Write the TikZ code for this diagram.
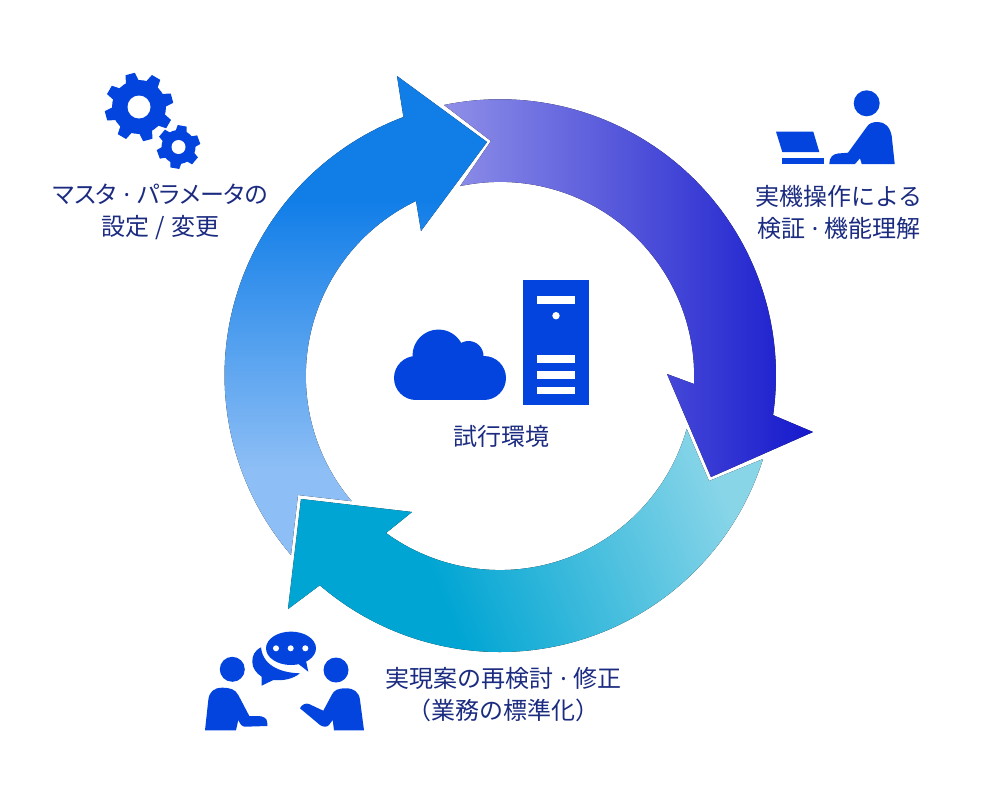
\documentclass[tikz,border=0pt]{standalone}
\usepackage{fontspec}
\setmainfont{Noto Sans CJK JP}
\newfontfamily\dotfont{Noto Sans}
\newfontfamily\paltfont[RawFeature=+palt]{Noto Sans CJK JP}
\newcommand{\sepdot}{\hspace{0.28em}{\dotfont ·}\hspace{0.28em}}
\definecolor{iconblue}{HTML}{0344DE}
\definecolor{labelnavy}{HTML}{1B2B80}
\definecolor{ringblue}{HTML}{117EE8}
\definecolor{ringpale}{HTML}{8DBEF5}
\definecolor{ringteal}{HTML}{00A5D3}
\definecolor{ringaqua}{HTML}{88D5E8}
\definecolor{ringlilac}{HTML}{8F8FE8}
\definecolor{ringindigo}{HTML}{1519CC}
\pgfdeclareverticalshading{blueshade}{100bp}{color(0bp)=(ringpale); color(34bp)=(ringpale); color(62bp)=(ringblue); color(100bp)=(ringblue)}
\pgfdeclarehorizontalshading{tealshade}{100bp}{color(0bp)=(ringteal); color(38bp)=(ringteal); color(75bp)=(ringaqua); color(100bp)=(ringaqua)}
\tikzset{
  icon/.style={fill=iconblue, draw=none},
  hole/.style={fill=white, draw=none},
  label/.style={text=labelnavy, align=center, inner sep=0pt, font=\fontsize{24}{32}\selectfont},
}
\begin{document}
\begin{tikzpicture}[x=1pt, y=-1pt]
    \useasboundingbox (0,0) rectangle (1000,800);

    % ring
    \fill[left color=ringlilac, right color=ringindigo]
      (444,105) arc[start angle=-101.7, end angle=8.3, radius=276] -- (813,432) -- (711,477) -- (667,374) -- (694,384)
      arc[start angle=2.4, end angle=-101.9, radius=194] -- (491,141) -- cycle;
    \fill[shading=tealshade, shading angle=22]
      (763,459) arc[start angle=17.5, end angle=130.7, radius=276] -- (288,609) -- (301,499) -- (412,512) -- (386,533)
      arc[start angle=126, end angle=15.8, radius=194] -- (709,481) -- cycle;
    \fill[shading=blueshade]
      (291,555) arc[start angle=139.4, end angle=249.4, radius=276] -- (397,76) -- (487,142) -- (421,231) -- (416,201)
      arc[start angle=244.4, end angle=139.8, radius=194] -- (298,495) -- cycle;

    % gears
    \begin{scope}[shift={(139,107)}]
      \fill[icon] (0,0) circle[radius=27];
      \foreach \a in {-105,-60,...,210} {
        \fill[icon] (\a-15:26) -- (\a-8:34.5) -- (\a+8:34.5) -- (\a+15:26) -- cycle;
      }
      \fill[hole] (0,0) circle[radius=11.5];
    \end{scope}
    \begin{scope}[shift={(178.5,147)}]
      \fill[icon] (0,0) circle[radius=17];
      \foreach \a in {-80,-20,...,220} {
        \fill[icon] (\a-21:16) -- (\a-12:22) -- (\a+12:22) -- (\a+21:16) -- cycle;
      }
      \fill[hole] (0,0) circle[radius=7];
    \end{scope}

    % laptop and user
    \fill[icon] (866.7,103.3) circle[radius=13];
    \fill[icon] (776,131.7) -- (813.3,131.7) -- (819.3,152) -- (782.3,152) -- cycle;
    \fill[icon] (782.3,158.3) rectangle (824,164);
    \fill[icon] (894.7,164) -- (891.7,136) .. controls (890,127) and (885,122) .. (878,122)
      .. controls (873,122) and (869,123) .. (866.7,127) -- (848,152.7) -- (838,153.5)
      .. controls (833,154) and (829.3,157) .. (829.3,164) -- (855,164) -- (860,158.3) -- (861.7,164) -- cycle;

    % meeting
    \fill[icon] (232.3,669.3) circle[radius=12.5];
    \fill[icon] (205,730.3) -- (208.3,700) .. controls (209,692) and (214,687.7) .. (222,687.7)
      .. controls (230,687.7) and (235,689) .. (238.3,695) -- (249.3,716) -- (258,716)
      .. controls (263,716) and (267.3,718) .. (267.3,723) -- (267.3,726) -- (245,726.7)
      .. controls (242,726.7) and (240,724) .. (238.3,720) -- (236,730.3) -- cycle;
    \fill[icon] (336,670) circle[radius=12.5];
    \fill[icon] (364,730.3) -- (360,700) .. controls (359,692) and (354,688.3) .. (346,688.3)
      .. controls (338,688.3) and (334,690) .. (331.7,695) -- (323.3,710.7) -- (309,704)
      .. controls (306,702.5) and (301,705) .. (300,708.3) -- (320,725)
      .. controls (323,727) and (327,727.5) .. (329,725) -- (332.7,720) -- (334,730.3) -- cycle;

    % speech bubbles
    \fill[icon] (291,648.3) ellipse[x radius=25, y radius=16.7];
    \fill[icon] (296,662) -- (308.3,671.7) -- (305,656) -- cycle;
    \fill[icon] (261,647.3) .. controls (254,651) and (252.3,656) .. (252.3,661.7)
      .. controls (252.3,668) and (256,673) .. (261.7,676.7) -- (261.7,685.7) -- (273.3,680)
      .. controls (283,681) and (293,679) .. (300,673.3)
      .. controls (285,673) and (263,668) .. (261,647.3) -- cycle;
    \foreach \x in {276,290.7,305.3} {
      \fill[hole] (\x,648.3) circle[radius=3];
    }

    % cloud
    \fill[icon] (416,378) circle[radius=22];
    \fill[icon] (484,378) circle[radius=22];
    \fill[icon] (438.5,355.5) circle[radius=26];
    \fill[icon] (468.5,356) circle[radius=15];
    \fill[icon] (416,356) rectangle (484,400);

    % server
    \fill[icon] (522.7,280) rectangle (589,404.7);
    \fill[hole] (536.7,296) rectangle (575,303.7);
    \fill[hole] (556,315.7) circle[radius=3.7];
    \foreach \y in {355.3,371,386.7} {
      \fill[hole] (536.7,\y) rectangle (575,\y+7.7);
    }

    % labels
    \node[label] (settings) at (160.5,212) {{\paltfont マスタ\sepdot パラメータの}\\設定\hspace{0.28em}/\hspace{0.28em}変更};
    \node[label] (verify) at (839,212) {実機操作による\\検証\sepdot 機能理解};
    \node[label] (trial) at (501,436) {試行環境};
    \node[label] (revise) at (503.5,695) {実現案の再検討\sepdot 修正\\（業務の標準化）};
\end{tikzpicture}
\end{document}
